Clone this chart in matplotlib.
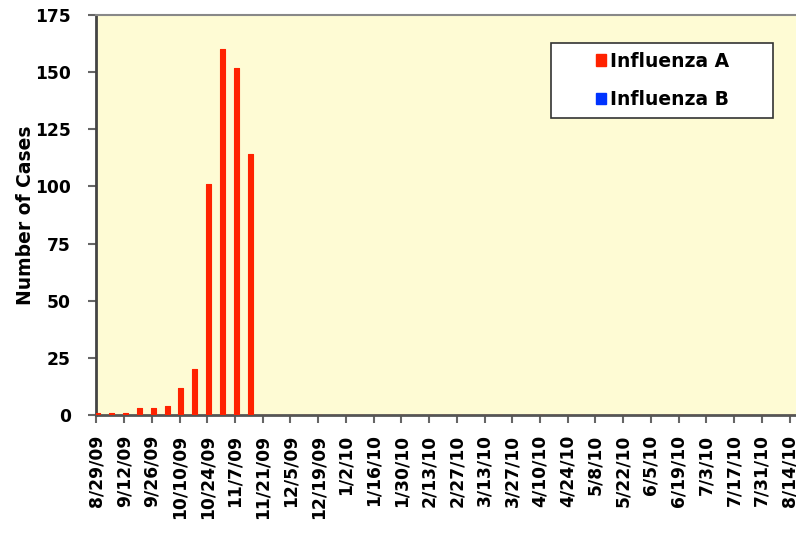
import numpy as np
import matplotlib.pyplot as plt
from matplotlib.patches import Patch, Rectangle

# Casos semanales (51 semanas, 8/29/09 .. 8/14/10)
flu_a = [1, 1, 1, 3, 3, 4, 12, 20, 101, 160, 152, 114,
         0, 0, 0, 0, 0, 0, 0, 0, 0, 0, 0, 0, 0, 0, 0, 0, 0, 0,
         0, 0, 0, 0, 0, 0, 0, 0, 0, 0, 0, 0, 0, 0, 0, 0, 0, 0,
         0, 0, 0]
flu_b = [0, 0, 0, 0, 0, 0, 0, 0, 0, 0, 0, 0,
         0, 0, 0, 0, 0, 0, 0, 0, 0, 0, 0, 0, 0, 0, 0, 0, 0, 0,
         0, 0, 0, 0, 0, 0, 0, 0, 0, 0, 0, 0, 0, 0, 0, 0, 0, 0,
         0, 0, 0]

# Etiquetas del eje X (cada dos semanas)
tick_labels = ['8/29/09', '9/12/09', '9/26/09', '10/10/09', '10/24/09',
               '11/7/09', '11/21/09', '12/5/09', '12/19/09', '1/2/10',
               '1/16/10', '1/30/10', '2/13/10', '2/27/10', '3/13/10',
               '3/27/10', '4/10/10', '4/24/10', '5/8/10', '5/22/10',
               '6/5/10', '6/19/10', '7/3/10', '7/17/10', '7/31/10',
               '8/14/10']

red = '#ff2200'
blue = '#0033ff'
bg = '#fefbd4'

X = np.arange(len(flu_a))
width = 0.36

fig = plt.figure(figsize=(7.96, 5.38), dpi=100)
ax = fig.add_axes([0.1206, 0.2286, 0.88, 0.7435])
ax.set_facecolor(bg)

ax.bar(X + 0.1, flu_a, width=width, color=red, edgecolor=red,
       linewidth=0.8, joinstyle='round', zorder=3)
ax.bar(X + 0.1 + width, flu_b, width=width, color=blue, linewidth=0, zorder=3)

ax.set_xlim(-0.03, 50.5)
ax.set_ylim(0, 175)

# Eje Y
ax.set_yticks(np.arange(0, 176, 25))
ax.set_ylabel('Number of Cases', fontsize=13.5, fontweight='bold', labelpad=0)

# Eje X
ax.set_xticks(X[::2])
ax.set_xticklabels(tick_labels, rotation=90)

for lbl in ax.get_xticklabels() + ax.get_yticklabels():
    lbl.set_fontweight('bold')
    lbl.set_fontsize(12.3)

ax.tick_params(axis='both', direction='out', length=6, width=1.5,
               color='#666666')
ax.tick_params(axis='y', pad=12)
ax.tick_params(axis='x', pad=8)

# Bordes
ax.spines['left'].set_color('#444444')
ax.spines['left'].set_linewidth(2)
ax.spines['bottom'].set_color('#555555')
ax.spines['bottom'].set_linewidth(2)
ax.spines['top'].set_color('#888888')
ax.spines['top'].set_linewidth(1.5)
ax.spines['right'].set_visible(False)

# Leyenda: caja propia y entradas centradas
box = (0.65, 0.7425, 0.317, 0.1875)
ax.add_patch(Rectangle(box[:2], box[2], box[3], transform=ax.transAxes,
                       facecolor='white', edgecolor='#333333',
                       linewidth=1.2, zorder=4))
handles = [Patch(facecolor=red, edgecolor=red), Patch(facecolor=blue, edgecolor=blue)]
leg = ax.legend(handles, ['Influenza A', 'Influenza B'],
                bbox_to_anchor=(box[0] + box[2] / 2, box[1] + box[3] / 2),
                loc='center', frameon=False,
                prop={'weight': 'bold', 'size': 13.5},
                handlelength=0.55, handleheight=0.55, handletextpad=0.2,
                labelspacing=1.05, borderpad=0.0)
leg.set_zorder(5)

plt.savefig('out.png', dpi=100)
